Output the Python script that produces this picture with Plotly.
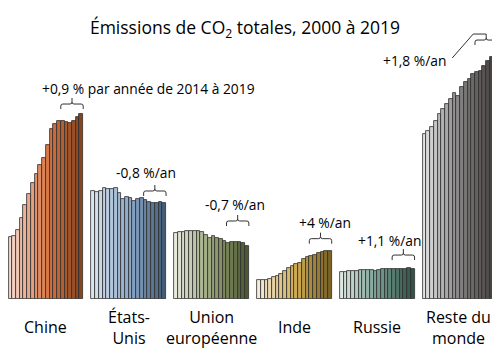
import plotly.graph_objects as go

years = list(range(2000, 2020))
regions = ["Chine", "États-<br>Unis", "Union<br>européenne", "Inde", "Russie", "Reste du<br>monde"]

# Emissions, Gt CO2
chine = [3.43, 3.46, 3.81, 4.48, 5.19, 5.80, 6.41, 6.91, 7.40, 7.79,
         8.51, 9.39, 9.67, 9.83, 9.83, 9.78, 9.72, 9.83, 10.06, 10.22]
etats_unis = [5.98, 5.89, 5.98, 6.12, 6.09, 6.06, 6.12, 5.84, 5.51, 5.65,
              5.56, 5.43, 5.51, 5.56, 5.47, 5.38, 5.29, 5.29, 5.38, 5.29]
union_europeenne = [3.66, 3.68, 3.70, 3.77, 3.77, 3.77, 3.77, 3.70, 3.54, 3.39,
                    3.48, 3.35, 3.30, 3.22, 3.11, 3.13, 3.15, 3.15, 3.11, 2.93]
inde = [1.05, 1.05, 1.07, 1.12, 1.20, 1.27, 1.38, 1.55, 1.71, 1.84,
        1.93, 2.00, 2.19, 2.30, 2.38, 2.45, 2.52, 2.60, 2.67, 2.65]
russie = [1.51, 1.51, 1.53, 1.55, 1.56, 1.58, 1.62, 1.62, 1.62, 1.55,
          1.62, 1.67, 1.67, 1.64, 1.64, 1.64, 1.64, 1.67, 1.71, 1.67]
reste_du_monde = [9.12, 9.26, 9.48, 9.85, 10.22, 10.50, 10.77, 11.05, 11.36, 11.23,
                  11.69, 12.00, 12.15, 12.43, 12.52, 12.61, 12.89, 13.13, 13.39, 13.81]

series = [chine, etats_unis, union_europeenne, inde, russie, reste_du_monde]
rates = ["+0,9 % par année de 2014 à 2019", "-0,8 %/an", "-0,7 %/an",
         "+4 %/an", "+1,1 %/an", "+1,8 %/an"]

# colour ramps (light, mid, dark) per region
ramps = [
    [(246, 218, 208), (216, 116, 64), (135, 68, 30)],
    [(218, 228, 238), (135, 165, 198), (68, 94, 120)],
    [(232, 234, 222), (145, 158, 112), (78, 88, 52)],
    [(245, 236, 216), (205, 168, 78), (125, 100, 38)],
    [(222, 232, 226), (112, 152, 140), (52, 84, 72)],
    [(228, 228, 228), (125, 122, 122), (68, 63, 63)],
]


def ramp(stops, n):
    out = []
    for i in range(n):
        t = i / (n - 1)
        if t <= 0.55:
            a, b, u = stops[0], stops[1], t / 0.55
        else:
            a, b, u = stops[1], stops[2], (t - 0.55) / 0.45
        c = [round(a[k] + (b[k] - a[k]) * u) for k in range(3)]
        out.append(f"rgb({c[0]},{c[1]},{c[2]})")
    return out


PERIOD = 22.2
n = len(years)
fig = go.Figure()
for g, vals in enumerate(series):
    xs = [g * PERIOD + i for i in range(n)]
    fig.add_trace(go.Bar(
        x=xs, y=vals, width=1,
        marker=dict(color=ramp(ramps[g], n), line=dict(color="rgb(45,45,45)", width=0.8)),
        showlegend=False, hoverinfo="skip",
    ))

# bracket/text placement (pixel offsets)
br_off = [10, 9, 21, 12, 13, 9]
txt_shift = [(76, 26), (-9, 27), (-3, 37), (4, 28), (-14, 28), (-72, -11)]
w, d, t, r = 11.2, 5, 6, 2

annotations = []
shapes = []
for g, vals in enumerate(series):
    cx = g * PERIOD + (n - 6 + n - 1) / 2
    ytop = max(vals[-6:])
    o = br_off[g]
    path = (f"M {-w},{o-d} L {-w},{o-r} Q {-w},{o} {-w+r},{o} L {-r},{o} Q 0,{o} 0,{o+r} L 0,{o+t} "
            f"M 0,{o+r} Q 0,{o} {r},{o} L {w-r},{o} Q {w},{o} {w},{o-r} L {w},{o-d}")
    if g == 5:
        path += f" M 0,{o+t} L -13,{o+t} L -34,{o-18}"
    shapes.append(dict(type="path", xref="x", yref="y", xsizemode="pixel", ysizemode="pixel",
                       xanchor=cx, yanchor=ytop, path=path,
                       line=dict(color="rgb(50,50,50)", width=1)))
    annotations.append(dict(x=cx, y=ytop, xref="x", yref="y", text=rates[g], showarrow=False,
                            xshift=txt_shift[g][0], yshift=txt_shift[g][1],
                            xanchor="center", yanchor="middle",
                            font=dict(size=13.8, color="black", family="Open Sans")))
    # category labels
    annotations.append(dict(x=g * PERIOD + (n - 1) / 2, y=0, xref="x", yref="y",
                            text=regions[g], showarrow=False, yshift=-28,
                            xshift=-2 if g == 5 else 0,
                            xanchor="center", yanchor="middle",
                            font=dict(size=16, color="black", family="Open Sans")))

SCALE = 18.1  # px per Gt
W, H = 492, 348   # page body has an 8px margin
top, bottom = 12, 57
plot_h = H - top - bottom

fig.update_layout(
    width=W, height=H,
    margin=dict(l=0, r=0, t=top, b=bottom, autoexpand=False),
    paper_bgcolor="white", plot_bgcolor="white",
    bargap=0, barmode="overlay",
    title=dict(text="Émissions de CO<sub>2</sub> totales, 2000 à 2019",
               x=237 / W, xanchor="center", y=1 - 20 / H, yanchor="middle",
               font=dict(size=17.5, color="black", family="Open Sans")),
    xaxis=dict(range=[-0.65, 131.2], visible=False, fixedrange=True),
    yaxis=dict(range=[0, plot_h / SCALE], visible=False, fixedrange=True),
    shapes=shapes, annotations=annotations,
    font=dict(family="Open Sans"),
)

fig.write_html("out.html")
